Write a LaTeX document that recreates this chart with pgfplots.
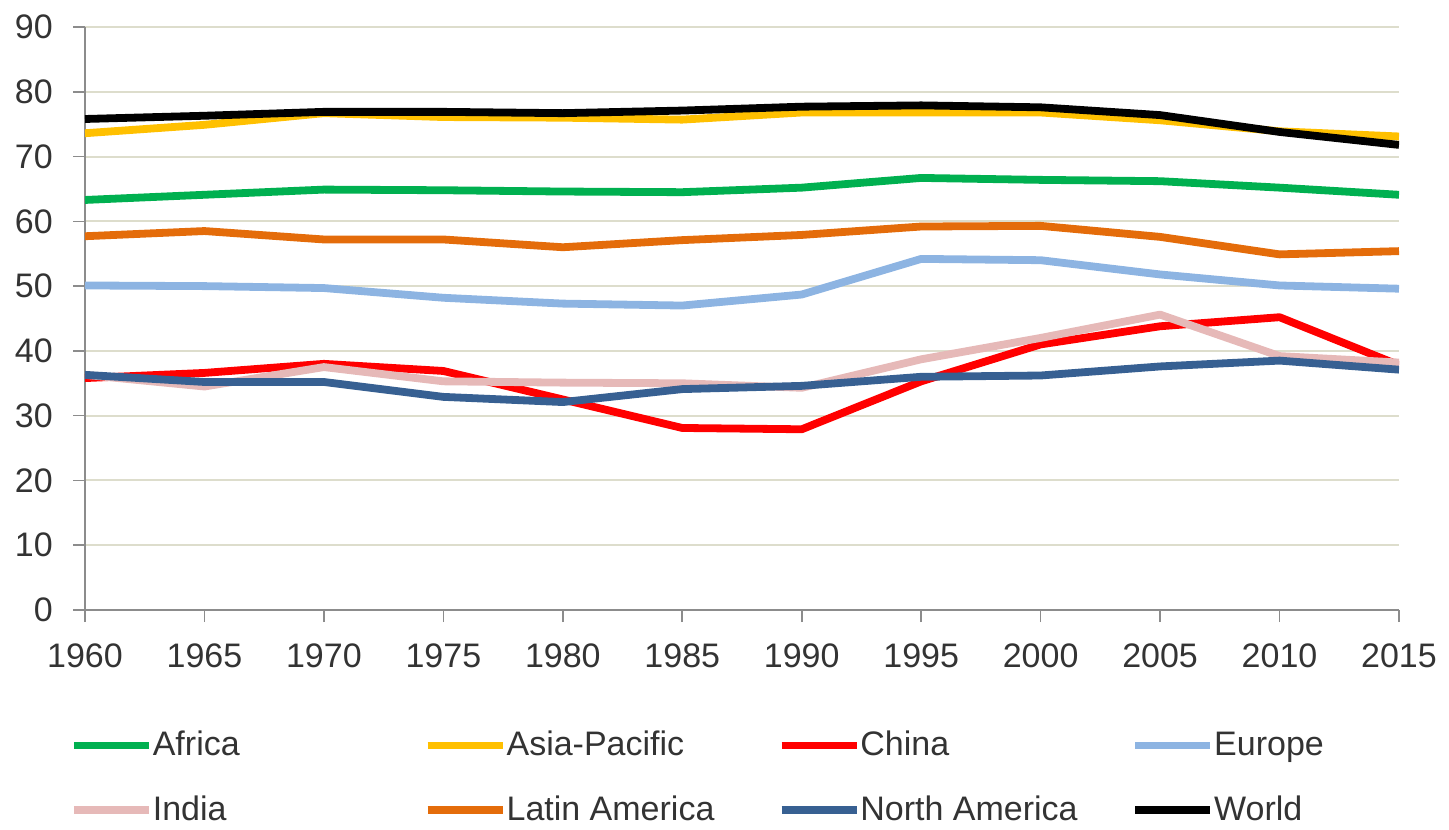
\documentclass[border=0pt]{standalone}
\usepackage{fontspec}
\setmainfont{Liberation Sans}
\usepackage{pgfplots}
\pgfplotsset{compat=1.18}
\definecolor{cAfrica}{HTML}{00B050}
\definecolor{cAsia}{HTML}{FFC000}
\definecolor{cChina}{HTML}{FF0000}
\definecolor{cEurope}{HTML}{8DB4E2}
\definecolor{cIndia}{HTML}{E6B9B8}
\definecolor{cLatam}{HTML}{E46C0A}
\definecolor{cNAm}{HTML}{376092}
\definecolor{cWorld}{HTML}{000000}
\definecolor{axisgray}{HTML}{8C8C8C}
\definecolor{gridc}{HTML}{DDDDCC}
\definecolor{txt}{HTML}{333333}
\newcommand{\lbl}[1]{\makebox[135.5pt][l]{\rule[-4pt]{0pt}{17pt}#1}}
\begin{document}
\fontsize{17}{20}\selectfont
\begin{tikzpicture}
\useasboundingbox (-42.5pt,-109.5pt) rectangle (682pt,305pt);
\begin{axis}[
  scale only axis, width=657pt, height=291.5pt,
  xmin=1960, xmax=2015, ymin=0, ymax=90,
  xtick={1960,1965,...,2015}, ytick={0,10,...,90},
  axis x line=bottom, axis y line=left,
  axis line style={-, draw=axisgray, line width=1pt},
  tick align=outside, major tick length=6pt,
  tick style={draw=axisgray, line width=0.8pt},
  ymajorgrids, grid style={draw=gridc, line width=1pt},
  /pgf/number format/assume math mode=true,
  /pgf/number format/1000 sep={},
  ticklabel style={font=\fontsize{17}{20}\selectfont, text=txt},
  xticklabel style={yshift=-5pt},
  yticklabel style={xshift=-4.3pt},
  every axis plot/.append style={line width=3.9pt, line join=round},
  legend columns=4,
  legend style={at={(-0.01142,-0.2058)}, anchor=north west, draw=none, fill=none,
    inner sep=0pt, outer sep=0pt, row sep=16.5pt,
    nodes={inner sep=0pt, text=txt, font=\fontsize{17}{20}\selectfont},
    /tikz/every odd column/.append style={column sep=0pt}},
  legend image code/.code={\draw (0pt,0pt) -- (37.5pt,0pt);},
]
\addplot[cAfrica] coordinates {(1960,63.3)(1965,64.1)(1970,64.9)(1975,64.8)(1980,64.6)(1985,64.5)(1990,65.2)(1995,66.7)(2000,66.4)(2005,66.2)(2010,65.2)(2015,64.1)};
\addlegendentry{\lbl{Africa}}
\addplot[cAsia] coordinates {(1960,73.6)(1965,74.9)(1970,76.7)(1975,76.1)(1980,76.0)(1985,75.7)(1990,76.8)(1995,76.8)(2000,76.8)(2005,75.6)(2010,73.9)(2015,73.1)};
\addlegendentry{\lbl{Asia-Pacific}}
\addplot[cChina] coordinates {(1960,35.8)(1965,36.6)(1970,38.0)(1975,36.9)(1980,32.5)(1985,28.1)(1990,27.9)(1995,35.3)(2000,41.0)(2005,43.8)(2010,45.2)(2015,37.8)};
\addlegendentry{\lbl{China}}
\addplot[cEurope] coordinates {(1960,50.1)(1965,50.0)(1970,49.7)(1975,48.2)(1980,47.3)(1985,47.0)(1990,48.7)(1995,54.2)(2000,54.0)(2005,51.8)(2010,50.1)(2015,49.6)};
\addlegendentry{\lbl{Europe}}
\addplot[cIndia] coordinates {(1960,36.3)(1965,34.5)(1970,37.5)(1975,35.3)(1980,35.1)(1985,35.0)(1990,34.3)(1995,38.7)(2000,42.0)(2005,45.6)(2010,39.2)(2015,38.2)};
\addlegendentry{\lbl{India}}
\addplot[cLatam] coordinates {(1960,57.7)(1965,58.5)(1970,57.2)(1975,57.2)(1980,56.0)(1985,57.1)(1990,57.9)(1995,59.2)(2000,59.3)(2005,57.6)(2010,54.9)(2015,55.4)};
\addlegendentry{\lbl{Latin America}}
\addplot[cNAm] coordinates {(1960,36.3)(1965,35.2)(1970,35.2)(1975,32.9)(1980,32.1)(1985,34.1)(1990,34.6)(1995,36.0)(2000,36.2)(2005,37.6)(2010,38.5)(2015,37.1)};
\addlegendentry{\lbl{North America}}
\addplot[cWorld] coordinates {(1960,75.8)(1965,76.3)(1970,76.9)(1975,76.9)(1980,76.7)(1985,77.1)(1990,77.7)(1995,77.9)(2000,77.6)(2005,76.4)(2010,73.8)(2015,71.8)};
\addlegendentry{\lbl{World}}
\end{axis}
\end{tikzpicture}
\end{document}
